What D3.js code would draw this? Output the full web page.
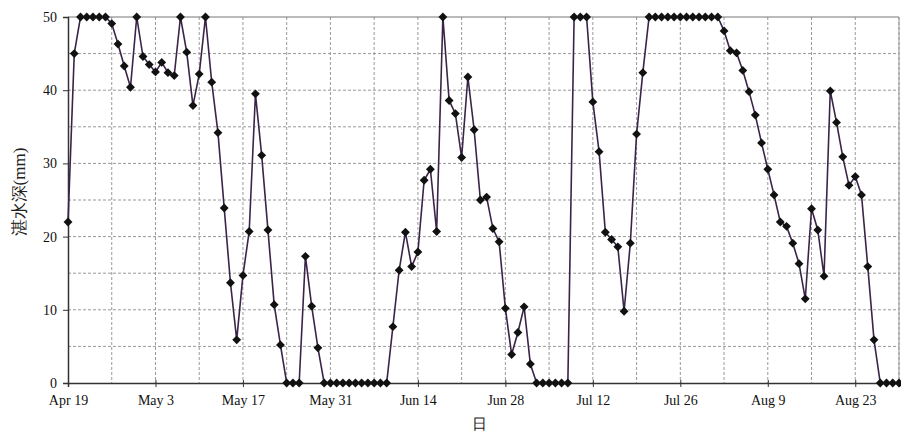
<!DOCTYPE html>
<html><head><meta charset="utf-8">
<script src="https://cdn.jsdelivr.net/npm/d3@7"></script>
<style>
body{margin:0;background:#fff;}
text{font-family:"Liberation Serif","DejaVu Serif",serif;}
</style></head>
<body><svg id="c" width="901" height="432"></svg>
<script>
const startDate = "2000-04-19";
const depthValues = [
 22.0,45.0,50,50,50,50,50,49.1,46.3,43.3,
 40.4,50,44.6,43.5,42.5,43.8,42.4,42.0,50,45.2,
 37.9,42.2,50,41.1,34.2,23.9,13.7,5.9,14.7,20.7,
 39.5,31.1,20.9,10.7,5.2,0,0,0,17.3,10.5,
 4.8,0,0,0,0,0,0,0,0,0,
 0,0,7.7,15.4,20.6,15.9,17.9,27.7,29.2,20.7,
 50,38.6,36.8,30.8,41.8,34.6,25.0,25.4,21.1,19.3,
 10.2,3.9,6.9,10.4,2.6,0,0,0,0,0,
 0,50,50,50,38.4,31.6,20.6,19.6,18.6,9.8,
 19.1,34.0,42.4,50,50,50,50,50,50,50,
 50,50,50,50,50,48.1,45.4,45.1,42.7,39.8,
 36.6,32.8,29.2,25.7,22.0,21.4,19.1,16.3,11.5,23.8,
 20.9,14.6,39.9,35.6,30.9,27.0,28.2,25.7,15.9,5.9,
 0,0,0,0
];
const xTickLabels = ["Apr 19","May 3","May 17","May 31","Jun 14","Jun 28","Jul 12","Jul 26","Aug 9","Aug 23"];
const yTickValues = [0,10,20,30,40,50];
const yLabel = "湛水深(mm)";
const xLabel = "日";

const parse = d3.timeParse("%Y-%m-%d");
const t0 = parse(startDate);
const data = depthValues.map((v,i)=>({date:d3.timeDay.offset(t0,i), v}));
const tEnd = d3.timeDay.offset(t0, depthValues.length-1);

const svg = d3.select("#c");
const L=68, R=899, T=17, B=383;
const x = d3.scaleTime().domain([t0,tEnd]).range([L,R]);
const y = d3.scaleLinear().domain([0,50]).range([B,T]);

// grid
const g = svg.append("g");
const weekTicks = d3.range(0, depthValues.length, 7).map(i=>d3.timeDay.offset(t0,i));
g.selectAll(".vg").data(weekTicks.slice(1)).join("line")
  .attr("x1",d=>x(d)).attr("x2",d=>x(d)).attr("y1",T).attr("y2",B)
  .attr("stroke","#999").attr("stroke-width",1).attr("stroke-dasharray","3,2");
g.selectAll(".hg").data(d3.range(5,50,5)).join("line")
  .attr("x1",L).attr("x2",R).attr("y1",d=>y(d)).attr("y2",d=>y(d))
  .attr("stroke","#999").attr("stroke-width",1).attr("stroke-dasharray","3,2");
// frame top/right
g.append("line").attr("x1",L).attr("x2",R).attr("y1",T).attr("y2",T).attr("stroke","#777");
g.append("line").attr("x1",R).attr("x2",R).attr("y1",T).attr("y2",B).attr("stroke","#999");

// axes
const biweek = d3.range(0, depthValues.length, 14).map(i=>d3.timeDay.offset(t0,i));
const xAxis = d3.axisBottom(x).tickValues(biweek).tickFormat((d,i)=>xTickLabels[i]).tickSize(4).tickPadding(8);
const xg = svg.append("g").attr("transform",`translate(0,${B})`).call(xAxis);
xg.select(".domain").attr("stroke","#333").attr("stroke-width",1.5);
xg.selectAll(".tick line").attr("stroke","#333").attr("y1",-3);
xg.selectAll("text").attr("font-size",14).attr("fill","#111");

const yAxis = d3.axisLeft(y).tickValues(yTickValues).tickSize(5).tickPadding(6);
const yg = svg.append("g").attr("transform",`translate(${L},0)`).call(yAxis);
yg.select(".domain").attr("stroke","#333").attr("stroke-width",1.5);
yg.selectAll(".tick line").attr("stroke","#333");
yg.selectAll("text").attr("font-size",14).attr("fill","#111");

// line
svg.append("path").datum(data)
  .attr("d", d3.line().x(d=>x(d.date)).y(d=>y(d.v)))
  .attr("fill","none").attr("stroke","#3a2448").attr("stroke-width",1.6);
const sym = d3.symbol().type(d3.symbolDiamond2).size(50);
svg.selectAll(".pt").data(data).join("path")
  .attr("transform",d=>`translate(${x(d.date)},${y(d.v)})`)
  .attr("d", sym).attr("fill","#111");

// labels
svg.append("text").attr("x",479).attr("y",429).attr("text-anchor","middle")
  .attr("font-size",15).attr("fill","#222").attr("font-family","'Liberation Serif','Noto Sans CJK SC',serif").text(xLabel);
svg.append("text").attr("transform","translate(25,192) rotate(-90)").attr("text-anchor","middle")
  .attr("font-size",17).attr("fill","#222").attr("font-family","'Liberation Serif','Noto Sans CJK SC',serif").text(yLabel);
</script></body></html>
